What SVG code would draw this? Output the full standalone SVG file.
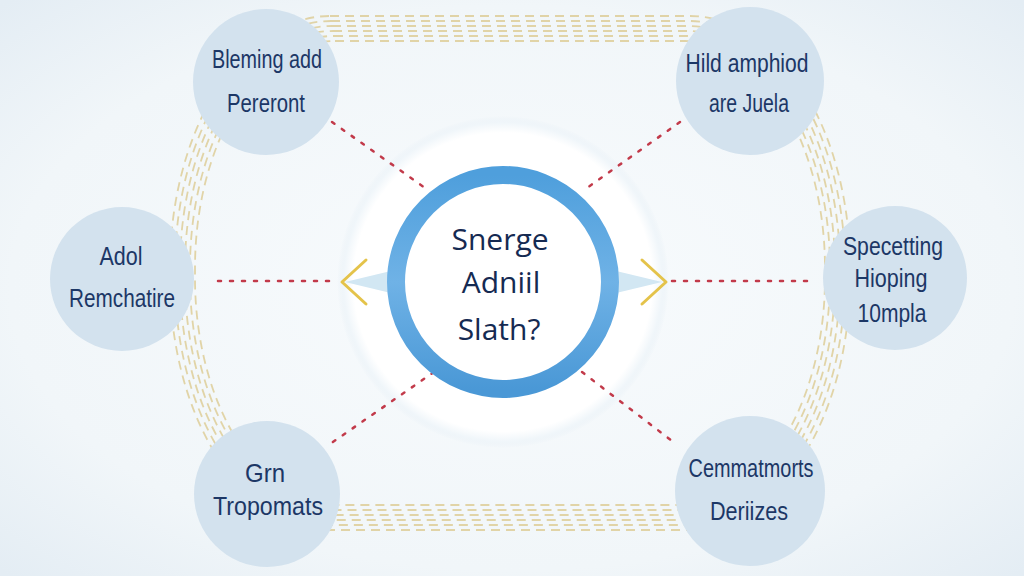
<svg xmlns="http://www.w3.org/2000/svg" width="1024" height="576" viewBox="0 0 1024 576">
<defs>
<radialGradient id="bg" cx="50%" cy="50%" r="70%">
<stop offset="0" stop-color="#f8fbfd"/>
<stop offset="0.7" stop-color="#f1f6f9"/>
<stop offset="1" stop-color="#e4edf4"/>
</radialGradient>
<radialGradient id="glow" cx="50%" cy="50%" r="50%">
<stop offset="0" stop-color="#ffffff"/>
<stop offset="0.9" stop-color="#ffffff"/>
<stop offset="0.96" stop-color="#f0f6fa"/>
<stop offset="1" stop-color="#e8f0f6" stop-opacity="0"/>
</radialGradient>
<linearGradient id="ringg" x1="0" y1="0" x2="0" y2="1">
<stop offset="0" stop-color="#4f9fdc"/>
<stop offset="0.5" stop-color="#6fb2e6"/>
<stop offset="1" stop-color="#4a98d6"/>
</linearGradient>
<style>
.sat{fill:#d3e2ee}
.t{font-family:"Liberation Sans",Arial,sans-serif;font-size:25px;fill:#1c3766;text-anchor:middle}
.ct{font-family:"Open Sans","Liberation Sans",sans-serif;font-size:30px;fill:#152a52;text-anchor:middle}
.band{fill:none;stroke:#dccb92;stroke-width:1.8;stroke-dasharray:9 6;opacity:0.8}
.dot{fill:none;stroke:#c23a4a;stroke-width:2.5;stroke-dasharray:3 9;stroke-linecap:round}
.chev{fill:none;stroke:#e4c34a;stroke-width:3;stroke-linecap:round;stroke-linejoin:round}
</style>
</defs>
<rect width="1024" height="576" fill="url(#bg)"/>
<g id="bands">
<rect class="band" x="170" y="16" width="680" height="514" rx="160" ry="252"/>
<rect class="band" x="175" y="21" width="670" height="504" rx="156" ry="247"/>
<rect class="band" x="180" y="26" width="660" height="494" rx="152" ry="242"/>
<rect class="band" x="185" y="31" width="650" height="484" rx="148" ry="237"/>
<rect class="band" x="190" y="36" width="640" height="474" rx="144" ry="232"/>
<rect class="band" x="195" y="41" width="630" height="464" rx="140" ry="227"/>
</g>
<circle cx="503" cy="282" r="166" fill="url(#glow)"/>
<g id="connectors">
<path class="dot" d="M332 122 L428 190"/>
<path class="dot" d="M680 122 L584 190"/>
<path class="dot" d="M434 372 L330 444"/>
<path class="dot" d="M582 372 L676 444"/>
<path class="dot" d="M218 281 L336 281"/>
<path class="dot" d="M672 281 L808 281"/>
<path d="M395 270 L345 282 L395 294 Z" fill="#d2e7f3"/>
<path d="M612 270 L662 282 L612 294 Z" fill="#d2e7f3"/>
<path class="chev" d="M366 260 L342 282 L366 304"/>
<path class="chev" d="M642 260 L666 282 L642 304"/>
</g>
<g id="center">
<circle cx="503" cy="282" r="107" fill="#ffffff" stroke="url(#ringg)" stroke-width="18"/>
<text class="ct" x="500" y="250">Snerge</text>
<text class="ct" x="501" y="293">Adniil</text>
<text class="ct" x="499" y="340">Slath?</text>
</g>
<g id="n1">
<circle class="sat" cx="266" cy="82" r="73"/>
<text class="t" x="267" y="68" textLength="110" lengthAdjust="spacingAndGlyphs">Bleming add</text>
<text class="t" x="266" y="112" textLength="78" lengthAdjust="spacingAndGlyphs">Pereront</text>
</g>
<g id="n2">
<circle class="sat" cx="750" cy="81" r="74"/>
<text class="t" x="747" y="72" textLength="123" lengthAdjust="spacingAndGlyphs">Hild amphiod</text>
<text class="t" x="749" y="112" textLength="80" lengthAdjust="spacingAndGlyphs">are Juela</text>
</g>
<g id="n3">
<circle class="sat" cx="122" cy="279" r="72"/>
<text class="t" x="121" y="265" textLength="43" lengthAdjust="spacingAndGlyphs">Adol</text>
<text class="t" x="122" y="307" textLength="106" lengthAdjust="spacingAndGlyphs">Remchatire</text>
</g>
<g id="n4">
<circle class="sat" cx="895" cy="278" r="72"/>
<text class="t" x="893" y="255" textLength="100" lengthAdjust="spacingAndGlyphs">Specetting</text>
<text class="t" x="891" y="287" textLength="73" lengthAdjust="spacingAndGlyphs">Hioping</text>
<text class="t" x="892" y="322" textLength="69" lengthAdjust="spacingAndGlyphs">10mpla</text>
</g>
<g id="n5">
<circle class="sat" cx="267" cy="494" r="73"/>
<text class="t" x="265" y="482" textLength="40" lengthAdjust="spacingAndGlyphs">Grn</text>
<text class="t" x="268" y="515" textLength="110" lengthAdjust="spacingAndGlyphs">Tropomats</text>
</g>
<g id="n6">
<circle class="sat" cx="750" cy="491" r="75"/>
<text class="t" x="751" y="477" textLength="125" lengthAdjust="spacingAndGlyphs">Cemmatmorts</text>
<text class="t" x="749" y="520" textLength="78" lengthAdjust="spacingAndGlyphs">Deriizes</text>
</g>
</svg>
